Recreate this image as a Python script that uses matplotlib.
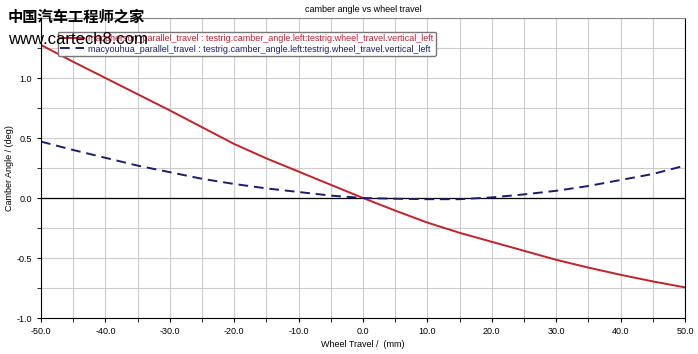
import numpy as np
import matplotlib.pyplot as plt
from matplotlib.ticker import MultipleLocator

# wheel travel (mm)
travel = [-50, -45, -40, -35, -30, -25, -20, -15, -10, -5, 0,
          5, 10, 15, 20, 25, 30, 35, 40, 45, 50]
# camber angle (deg)
camber_red = [1.275, 1.135, 1.0, 0.865, 0.73, 0.59, 0.45, 0.33, 0.22, 0.11, 0.0,
              -0.105, -0.205, -0.29, -0.365, -0.44, -0.515, -0.58, -0.64, -0.695, -0.745]
camber_blue = [0.47, 0.40, 0.335, 0.27, 0.215, 0.16, 0.117, 0.08, 0.05, 0.02, 0.0,
               -0.006, -0.01, -0.01, 0.005, 0.03, 0.06, 0.10, 0.15, 0.20, 0.27]

label_red = "macpherson_parallel_travel : testrig.camber_angle.left:testrig.wheel_travel.vertical_left"
label_blue = "macyouhua_parallel_travel : testrig.camber_angle.left:testrig.wheel_travel.vertical_left"

plt.rcParams['font.family'] = ['Liberation Sans', 'DejaVu Sans', 'Noto Sans CJK SC']

fig = plt.figure(figsize=(6.98, 3.54), dpi=100)
ax = fig.add_axes([41/698, 36/354, 644/698, 300/354])

ax.plot(travel, camber_red, color='#c0222b', lw=1.4, label=label_red)
ax.plot(travel, camber_blue, color='#1c1c6e', lw=1.4, ls=(0, (5, 3)), label=label_blue)
ax.axhline(0, color='black', lw=0.9, zorder=1)

ax.set_xlim(-50, 50)
ax.set_ylim(-1.0, 1.5)
ax.xaxis.set_major_locator(MultipleLocator(10))
ax.xaxis.set_minor_locator(MultipleLocator(5))
ax.set_yticks([-1.0, -0.5, 0.0, 0.5, 1.0])
ax.yaxis.set_minor_locator(MultipleLocator(0.25))
ax.xaxis.set_major_formatter(lambda v, p: f"{v:.1f}")
ax.yaxis.set_major_formatter(lambda v, p: f"{v:.1f}")
ax.grid(True, which='both', color='#cccccc', lw=0.8)
ax.set_axisbelow(True)
ax.tick_params(which='both', labelsize=6.5, length=3, direction='out', color='black')
ax.spines['top'].set_color('#888888')

ax.set_xlabel("Wheel Travel /  (mm)", fontsize=6.5, labelpad=3)
ax.set_ylabel("Camber Angle / (deg)", fontsize=6.5, labelpad=2)
fig.text(363/698, 1 - 9/354, "camber angle vs wheel travel", fontsize=6.5, ha='center', va='center')

leg = ax.legend(loc='upper left', bbox_to_anchor=(53/698, 1 - 27/354), bbox_transform=fig.transFigure,
                fontsize=6.5, frameon=True, fancybox=True, edgecolor='#777777', framealpha=1,
                handlelength=2.6, borderpad=0.3, labelspacing=0.15, handletextpad=0.5)
for txt, c in zip(leg.get_texts(), ['#c0222b', '#1c1c6e']):
    txt.set_color(c)

# watermark
fig.text(8/698, 1 - 17/354, "中国汽车工程师之家", fontsize=11, fontweight='bold', color='black',
         family=['Noto Sans CJK SC'], va='center')
fig.text(8/698, 1 - 40/354, "www.cartech8.com", fontsize=12, color='black', va='center', zorder=10)

fig.savefig("out.png", dpi=100)
